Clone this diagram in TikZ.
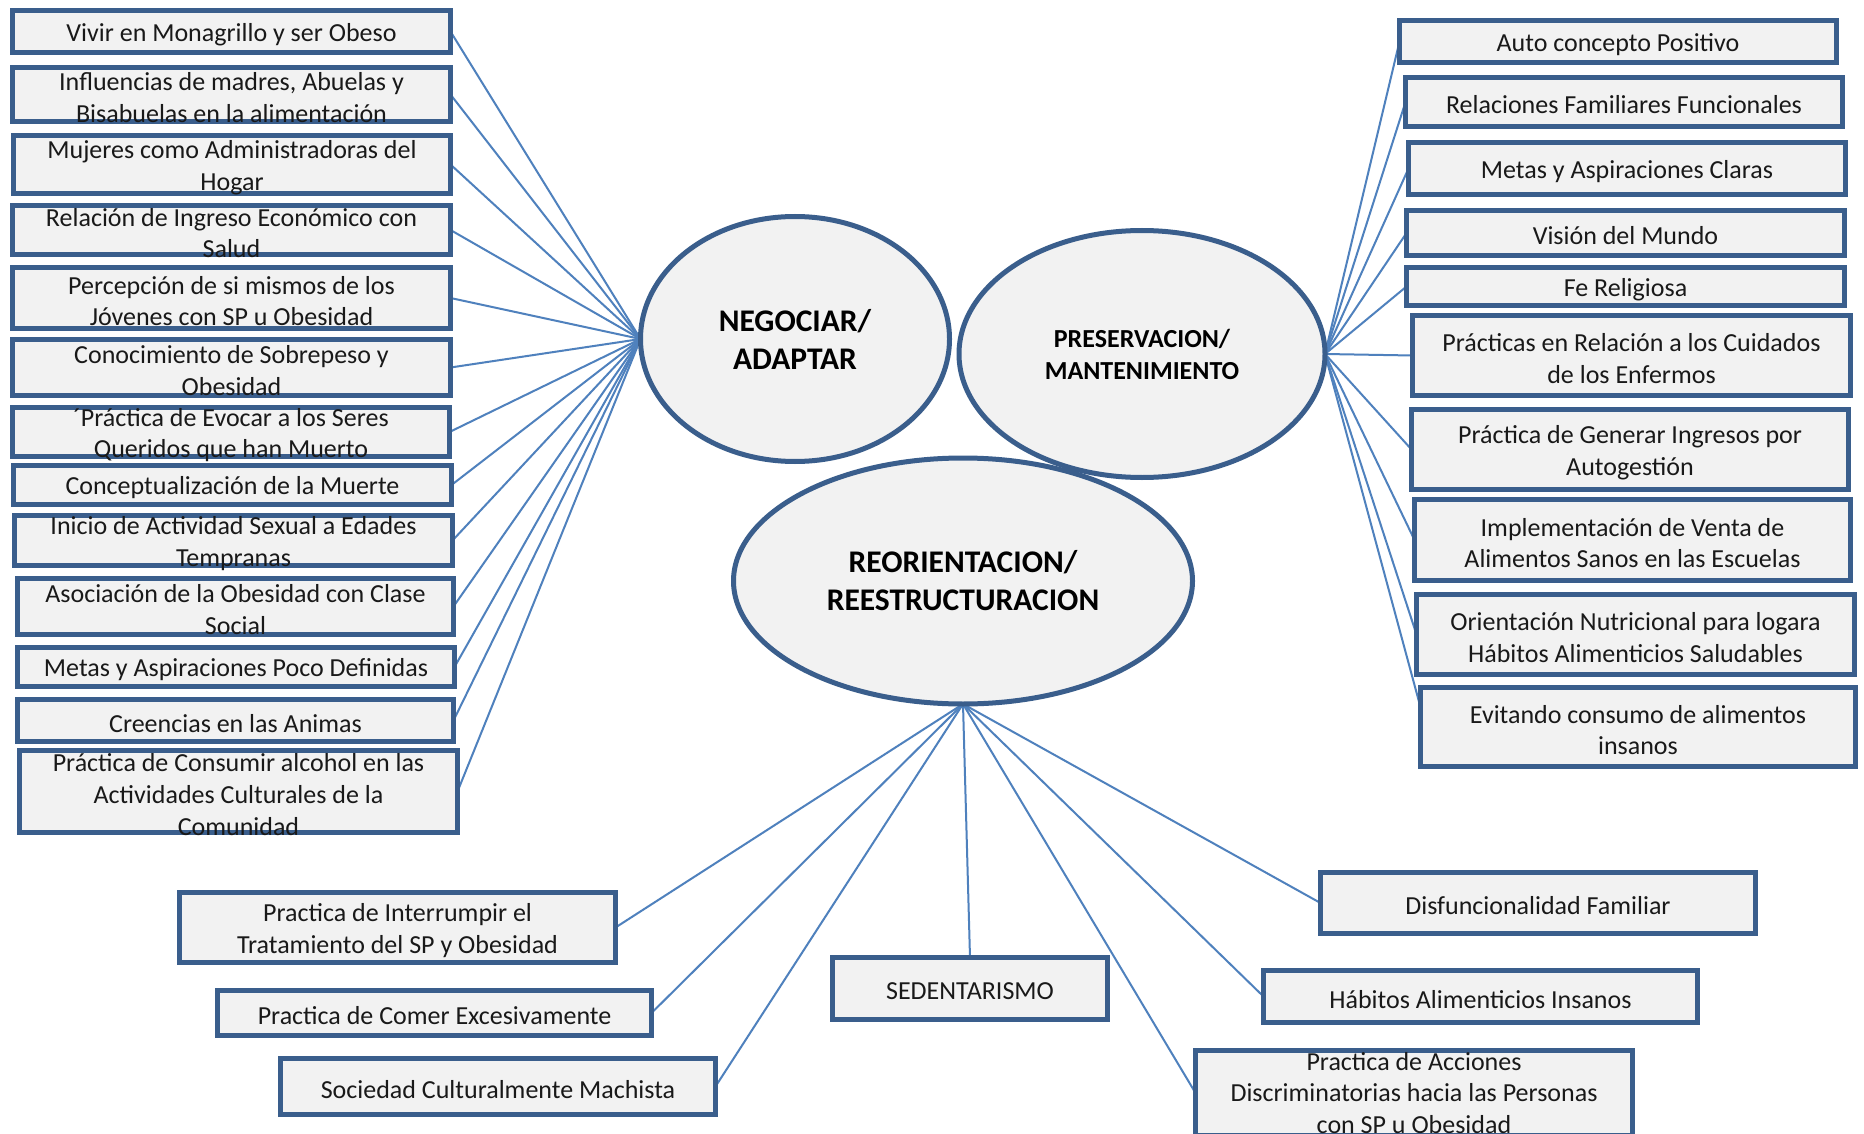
\documentclass[tikz,border=0pt]{standalone}
\usepackage{fontspec}
\setmainfont{Carlito}
\usetikzlibrary{shapes.geometric,backgrounds,calc}
\definecolor{bordc}{HTML}{3A5E8C}
\definecolor{linec}{HTML}{4F81BD}
\definecolor{fillc}{HTML}{F2F2F2}
\tikzset{
 box/.style={draw=bordc, line width=5pt, fill=fillc, rectangle, inner sep=0pt, outer sep=0pt},
 txt/.style={align=center, inner sep=0pt, text=black!90, font=\fontsize{26}{31.7}\selectfont, yshift=-3pt},
 oval/.style={draw=bordc, line width=5pt, fill=fillc, ellipse, inner sep=0pt, outer sep=0pt, align=center, text=black, font=\bfseries\fontsize{31.5}{38}\selectfont},
 conn/.style={draw=linec, line width=2pt},
}
\newcommand\bx[6]{\node[box, minimum width={(#4-#2-5)*1pt}, minimum height={(#5-#3-5)*1pt}] (#1) at ({(#2+#4)/2},{(#3+#5)/2}) {};
\node[txt] (#1t) at (#1.center) {#6};}
\begin{document}
\begin{tikzpicture}[x=1pt,y=-1pt]
\useasboundingbox (0,0) rectangle (1864,1134);
% left boxes
\bx{L1}{10}{8}{453}{55}{Vivir en Monagrillo y ser Obeso}
\bx{L2}{10}{65}{453}{124}{Influencias de madres, Abuelas y\\Bisabuelas en la alimentación}
\bx{L3}{11}{133}{453}{196}{Mujeres como Administradoras del\\Hogar}
\bx{L4}{10}{203}{453}{257}{Relación de Ingreso Económico con\\Salud}
\bx{L5}{10}{265}{453}{331}{Percepción de si mismos de los\\Jóvenes con SP u Obesidad}
\bx{L6}{10}{337}{453}{398}{Conocimiento de Sobrepeso y\\Obesidad}
\bx{L7}{10}{405}{452}{459}{´Práctica de Evocar a los Seres\\Queridos que han Muerto}
\bx{L8}{11}{463}{454}{507}{Conceptualización de la Muerte}
\bx{L9}{12}{513}{455}{568}{Inicio de Actividad Sexual a Edades\\Tempranas}
\bx{L10}{15}{576}{456}{637}{Asociación de la Obesidad con Clase\\Social}
\bx{L11}{15}{645}{457}{689}{Metas y Aspiraciones Poco Definidas}
\bx{L12}{15}{697}{456}{744}{Creencias en las Animas}
\bx{L13}{17}{748}{460}{835}{Práctica de Consumir alcohol en las\\Actividades Culturales de la\\Comunidad}
% right boxes
\bx{R1}{1397}{18}{1839}{65}{Auto concepto Positivo}
\bx{R2}{1403}{75}{1845}{129}{Relaciones Familiares Funcionales}
\bx{R3}{1406}{140}{1848}{197}{Metas y Aspiraciones Claras}
\bx{R4}{1404}{208}{1847}{258}{Visión del Mundo}
\bx{R5}{1404}{265}{1847}{308}{Fe Religiosa}
\bx{R6}{1410}{313}{1853}{398}{Prácticas en Relación a los Cuidados\\de los Enfermos}
\bx{R7}{1409}{407}{1851}{492}{Práctica de Generar Ingresos por\\Autogestión}
\bx{R8}{1412}{497}{1853}{583}{Implementación de Venta de\\Alimentos Sanos en las Escuelas}
\bx{R9}{1414}{592}{1857}{677}{Orientación Nutricional para logara\\Hábitos Alimenticios Saludables}
\bx{R10}{1418}{685}{1858}{769}{Evitando consumo de alimentos\\insanos}
% bottom boxes
\bx{B1}{177}{890}{618}{965}{Practica de Interrumpir el\\Tratamiento del SP y Obesidad}
\bx{B2}{215}{988}{654}{1038}{Practica de Comer Excesivamente}
\bx{B3}{278}{1056}{718}{1117}{Sociedad Culturalmente Machista}
\bx{B4}{830}{955}{1110}{1022}{SEDENTARISMO}
\bx{B5}{1318}{870}{1758}{936}{Disfuncionalidad Familiar}
\bx{B6}{1261}{968}{1700}{1025}{Hábitos Alimenticios Insanos}
\node[box, minimum width=437pt, minimum height=85pt] (B7) at (1414,1093) {};
\node[txt, yshift=3pt] (B7t) at (B7.center) {Practica de Acciones\\Discriminatorias hacia las Personas\\con SP u Obesidad};
% ovals
\node[oval, minimum width=309pt, minimum height=245pt] (NEG) at (795,339) {NEGOCIAR/\\ADAPTAR};
\node[oval, minimum width=459pt, minimum height=246pt] (REO) at (963,581) {REORIENTACION/\\REESTRUCTURACION};
\node[oval, minimum width=366pt, minimum height=247pt, font=\bfseries\fontsize{26}{32}\selectfont] (PRE) at (1142,354) {PRESERVACION/\\MANTENIMIENTO};
\coordinate (R10in) at ($(R10.north west)!0.25!(R10.south west)$);
\begin{scope}[on background layer]
\fill[white] (0,0) rectangle (1864,1134);
\foreach \n in {L1,L2,L3,L4,L5,L6,L7,L8,L9,L10,L11,L12,L13}
  \draw[conn] (NEG.west) -- (\n.east);
\foreach \n in {R1,R2,R3,R4,R5,R6,R7,R8,R9}
  \draw[conn] (PRE.east) -- (\n.west);
\draw[conn] (PRE.east) -- (R10in);
\foreach \n in {B1,B2,B3}
  \draw[conn] (REO.south) -- (\n.east);
\draw[conn] (REO.south) -- (B4.north);
\foreach \n in {B5,B6,B7}
  \draw[conn] (REO.south) -- (\n.west);
\end{scope}
\end{tikzpicture}
\end{document}
